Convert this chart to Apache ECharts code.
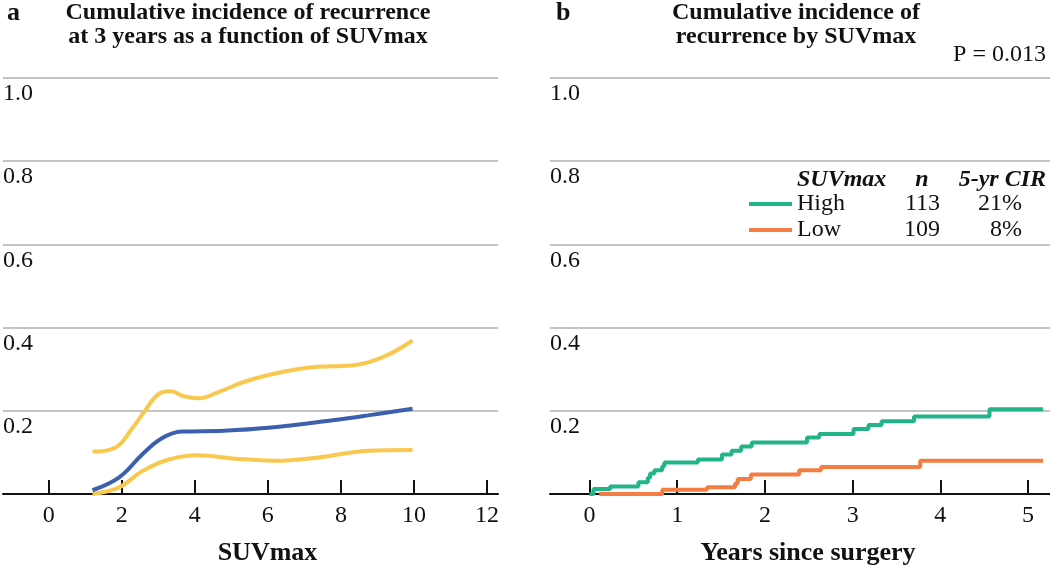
<!DOCTYPE html>
<html>
<head>
<meta charset="utf-8">
<script src="https://cdn.jsdelivr.net/npm/echarts@6/dist/echarts.min.js"></script>
<style>html,body{margin:0;padding:0;background:#fff}#c{width:1050px;height:571px}</style>
</head>
<body>
<div id="c"></div>
<script>
// Panel a: cumulative incidence at 3 years vs SUVmax
const estX   = [1.2, 1.93, 2.56, 3.1, 3.65, 4.8, 6.01, 7.83, 8.74, 9.96];
const estY   = [0.009, 0.04, 0.095, 0.134, 0.150, 0.152, 0.159, 0.178, 0.189, 0.205];
const upperX = [1.2, 1.83, 2.29, 2.61, 3.02, 3.34, 3.7, 4.1, 4.65, 5.3, 6.01, 6.8, 7.38, 8.28, 9.19, 9.96];
const upperY = [0.102, 0.112, 0.158, 0.197, 0.241, 0.247, 0.235, 0.230, 0.245, 0.268, 0.286, 0.300, 0.306, 0.309, 0.331, 0.369];
const lowerX = [1.2, 1.93, 2.56, 3.29, 4.1, 5.1, 6.19, 7.38, 8.74, 9.96];
const lowerY = [0.0, 0.016, 0.055, 0.083, 0.093, 0.085, 0.080, 0.088, 0.104, 0.106];
const suvTicks = [0, 2, 4, 6, 8, 10, 12];

// Panel b: cumulative incidence by SUVmax group
const highT = [0, 0.046, 0.236, 0.558, 0.665, 0.69, 0.74, 0.83, 0.854, 1.235, 1.51, 1.62, 1.73, 1.85, 2.48, 2.62, 3.01, 3.18, 3.33, 3.70, 4.56, 5.17];
const highV = [0, 0.012, 0.018, 0.028, 0.039, 0.049, 0.057, 0.067, 0.076, 0.083, 0.095, 0.104, 0.114, 0.124, 0.136, 0.144, 0.156, 0.166, 0.175, 0.186, 0.204, 0.204];
const lowT  = [0.11, 0.83, 1.34, 1.66, 1.69, 1.84, 2.39, 2.64, 3.77, 5.17];
const lowV  = [0, 0.010, 0.016, 0.025, 0.036, 0.047, 0.057, 0.065, 0.080, 0.080];
const yearTicks = [0, 1, 2, 3, 4, 5];
const groups = ['High', 'Low'];
const groupN = {High: 113, Low: 109};
const groupCIR = {High: '21%', Low: '8%'};

const FONT = 'Liberation Serif';
const zip = (xs, ys) => xs.map((x, i) => [x, ys[i]]);

const yAxisBase = {
  type: 'value', min: 0, max: 1, interval: 0.2,
  axisLine: {show: false}, axisTick: {show: false},
  splitLine: {show: true, lineStyle: {color: '#c4c4c4', width: 2}},
  axisLabel: {
    inside: true, margin: 0, verticalAlign: 'top', padding: [4, 0, 0, 0],
    fontFamily: FONT, fontSize: 24, color: '#111',
    formatter: v => v === 0 ? '' : v.toFixed(1)
  }
};
function xAxisBase(min, max, ticks, name, shift) {
  return {
    type: 'value', min: min, max: max,
    axisLine: {show: true, onZero: false, lineStyle: {color: '#111', width: 2}},
    axisTick: {show: true, inside: true, length: 14, lineStyle: {color: '#111', width: 2}, customValues: ticks},
    axisLabel: {margin: 10, fontFamily: FONT, fontSize: 24, color: '#111', customValues: ticks},
    splitLine: {show: false},
    name: name, nameLocation: 'middle', nameGap: 46,
    nameTextStyle: {fontFamily: FONT, fontSize: 26, fontWeight: 'bold', color: '#111', padding: [0, 0, 0, shift]}
  };
}

const chart = echarts.init(document.getElementById('c'), null, {renderer: 'canvas'});
chart.setOption({
  animation: false,
  backgroundColor: '#fff',
  grid: [
    {left: 0, width: 498, top: 78, bottom: 71},
    {left: 550, right: 0, top: 78, bottom: 71}
  ],
  xAxis: [
    Object.assign(xAxisBase(-1.25, 12.3, suvTicks, 'SUVmax', 34), {gridIndex: 0}),
    Object.assign(xAxisBase(-0.45, 5.25, yearTicks, 'Years since surgery', 16), {gridIndex: 1})
  ],
  yAxis: [
    Object.assign({}, yAxisBase, {gridIndex: 0}),
    Object.assign({}, yAxisBase, {gridIndex: 1})
  ],
  legend: {
    data: groups, orient: 'vertical', left: 749, top: 191, padding: 0, itemGap: 0,
    icon: 'rect', itemWidth: 43, itemHeight: 4,
    selectedMode: false,
    formatter: name => '{a|' + name + '}{b|' + groupN[name] + '}{c|' + groupCIR[name] + '}',
    textStyle: {
      fontFamily: FONT, fontSize: 24, color: '#111', lineHeight: 26,
      rich: {
        a: {width: 80, fontFamily: FONT, fontSize: 24, lineHeight: 26},
        b: {width: 63, align: 'right', fontFamily: FONT, fontSize: 24, lineHeight: 26},
        c: {width: 82, align: 'right', fontFamily: FONT, fontSize: 24, lineHeight: 26}
      }
    }
  },
  graphic: [
    {type: 'text', left: 7, top: 0, style: {text: 'a', font: 'bold 26px "Liberation Serif"', fill: '#111'}},
    {type: 'text', x: 248, y: 1, style: {text: 'Cumulative incidence of recurrence\nat 3 years as a function of SUVmax', font: 'bold 24px "Liberation Serif"', lineHeight: 24, align: 'center', verticalAlign: 'top', fill: '#111'}},
    {type: 'text', left: 556, top: 0, style: {text: 'b', font: 'bold 26px "Liberation Serif"', fill: '#111'}},
    {type: 'text', x: 796, y: 1, style: {text: 'Cumulative incidence of\nrecurrence by SUVmax', font: 'bold 24px "Liberation Serif"', lineHeight: 24, align: 'center', verticalAlign: 'top', fill: '#111'}},
    {type: 'text', x: 1046, y: 55, style: {text: 'P = 0.013', font: '24px "Liberation Serif"', align: 'right', verticalAlign: 'middle', fill: '#111'}},
    {type: 'text', x: 797, y: 180, style: {text: 'SUVmax', font: 'italic bold 24px "Liberation Serif"', align: 'left', verticalAlign: 'middle', fill: '#111'}},
    {type: 'text', x: 922, y: 180, style: {text: 'n', font: 'italic bold 24px "Liberation Serif"', align: 'center', verticalAlign: 'middle', fill: '#111'}},
    {type: 'text', x: 1046, y: 180, style: {text: '5-yr CIR', font: 'italic bold 24px "Liberation Serif"', align: 'right', verticalAlign: 'middle', fill: '#111'}}
  ],
  series: [
    {type: 'line', xAxisIndex: 0, yAxisIndex: 0, data: zip(upperX, upperY), smooth: 0.4, showSymbol: false, lineStyle: {color: '#f9c84f', width: 4}},
    {type: 'line', xAxisIndex: 0, yAxisIndex: 0, data: zip(lowerX, lowerY), smooth: 0.4, showSymbol: false, lineStyle: {color: '#f9c84f', width: 4}},
    {type: 'line', xAxisIndex: 0, yAxisIndex: 0, data: zip(estX, estY), smooth: 0.4, showSymbol: false, lineStyle: {color: '#3d60ae', width: 4}},
    {name: 'High', type: 'line', xAxisIndex: 1, yAxisIndex: 1, data: zip(highT, highV), step: 'end', showSymbol: false, color: '#22b389', lineStyle: {color: '#22b389', width: 4}},
    {name: 'Low', type: 'line', xAxisIndex: 1, yAxisIndex: 1, data: zip(lowT, lowV), step: 'end', showSymbol: false, color: '#f47d44', lineStyle: {color: '#f47d44', width: 4}}
  ]
});
</script>
</body>
</html>
